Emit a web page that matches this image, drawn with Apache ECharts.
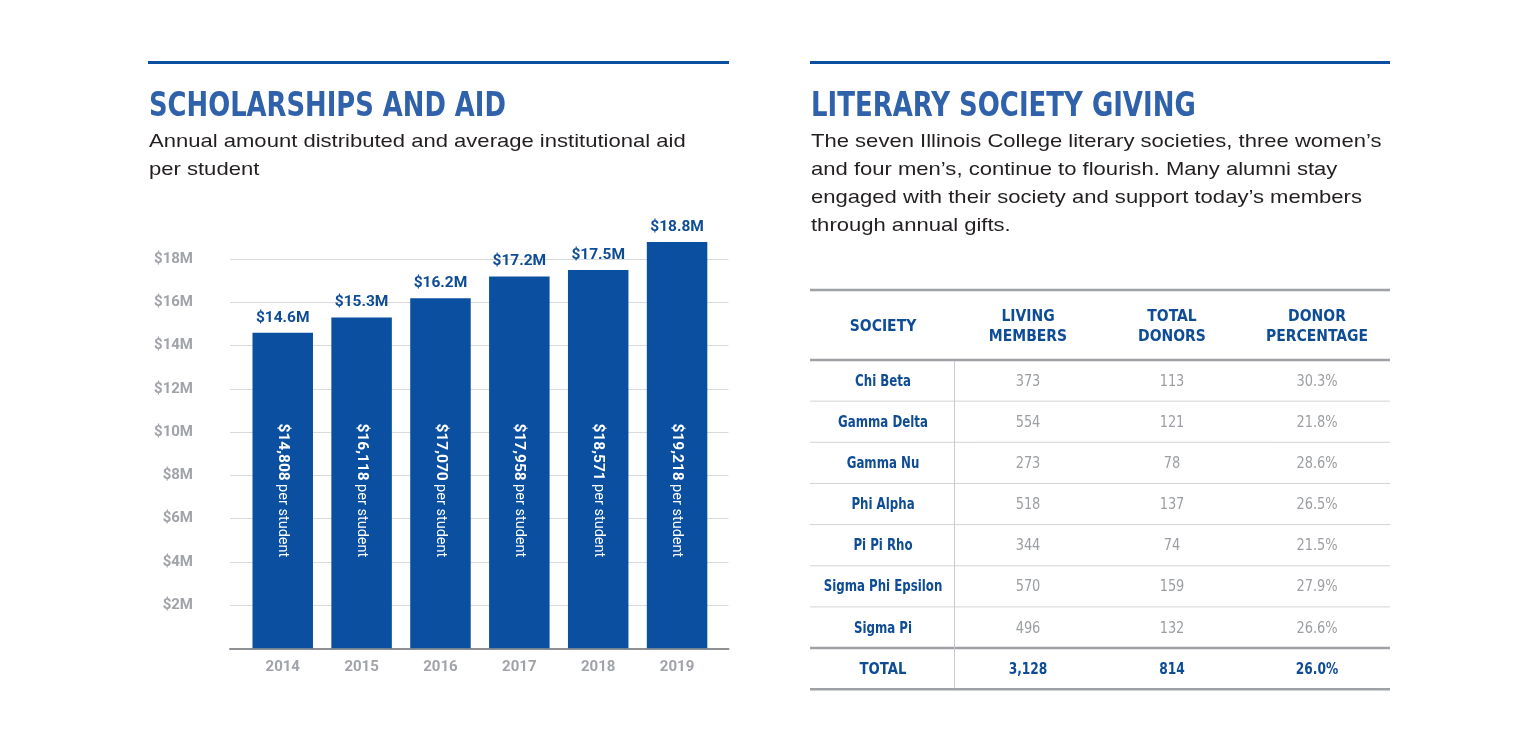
<!DOCTYPE html>
<html><head><meta charset="utf-8">
<script src="https://cdn.jsdelivr.net/npm/echarts@6/dist/echarts.min.js"></script>
<style>html,body{margin:0;padding:0;background:#fff}#c{width:1537px;height:737px}</style>
</head><body><div id="c"></div>
<script>
// ---- data ----
const years = ['2014', '2015', '2016', '2017', '2018', '2019'];
const totalAidM = [14.6, 15.3, 16.2, 17.2, 17.5, 18.8];
const perStudent = [14808, 16118, 17070, 17958, 18571, 19218];

const tableHeaders = ['SOCIETY', 'LIVING\nMEMBERS', 'TOTAL\nDONORS', 'DONOR\nPERCENTAGE'];
const societies = ['Chi Beta', 'Gamma Delta', 'Gamma Nu', 'Phi Alpha', 'Pi Pi Rho', 'Sigma Phi Epsilon', 'Sigma Pi'];
const livingMembers = [373, 554, 273, 518, 344, 570, 496];
const totalDonors = [113, 121, 78, 137, 74, 159, 132];
const donorPct = [30.3, 21.8, 28.6, 26.5, 21.5, 27.9, 26.6];
const totalRow = ['TOTAL', 3128, 814, 26.0];

const leftTitle = 'SCHOLARSHIPS AND AID';
const leftSub = 'Annual amount distributed and average institutional aid\nper student';
const rightTitle = 'LITERARY SOCIETY GIVING';
const rightSub = 'The seven Illinois College literary societies, three women\u2019s\nand four men\u2019s, continue to flourish. Many alumni stay\nengaged with their society and support today\u2019s members\nthrough annual gifts.';

// ---- style ----
const COND = '"Liberation Sans Narrow","DejaVu Sans Condensed","Roboto Condensed","Arial Narrow",sans-serif';
const LBL = 'Roboto,"DejaVu Sans Condensed",sans-serif';
const SANS = '"Liberation Sans",Arial,Helvetica,sans-serif';
const BAR = '#0a4fa0';
const DARKBLUE = '#0e4c96';
const TITLEBLUE = '#2f62ab';
const GRAY = '#a0a3a8';
const NUMGRAY = '#9b9ea2';

const fmtInt = v => v.toLocaleString('en-US');

// ---- table graphics ----
const g = [];
const tX0 = 810, tX1 = 1390;
const colCenters = [883, 1028, 1172, 1317];
const headTop = 290, headBot = 360, rowH = 41.15;
const nRows = societies.length + 1;

function hline(y, w, color) {
  g.push({type: 'line', shape: {x1: tX0, y1: y, x2: tX1, y2: y}, style: {stroke: color, lineWidth: w}, silent: true});
}
function txt(x, y, text, font, fill, align, sx, lineHeight, vAlign) {
  g.push({type: 'text', x: x, y: y, scaleX: sx || 1, silent: true,
    style: {text: text, font: font, fill: fill, align: align || 'center', verticalAlign: vAlign || 'middle', lineHeight: lineHeight}});
}

// rules above sections
g.push({type: 'rect', shape: {x: 148, y: 61, width: 581, height: 3}, style: {fill: BAR}, silent: true});
g.push({type: 'rect', shape: {x: 810, y: 61, width: 580, height: 3}, style: {fill: BAR}, silent: true});
// titles & subtitles
txt(149, 107.5, leftTitle, 'bold 33px ' + COND, TITLEBLUE, 'left', 0.87);
txt(149, 128, leftSub, '19px ' + SANS, '#231f20', 'left', 1.16, 28, 'top');
txt(811, 107.5, rightTitle, 'bold 33px ' + COND, TITLEBLUE, 'left', 0.875);
txt(811, 128, rightSub, '19px ' + SANS, '#231f20', 'left', 1.16, 28, 'top');

// table lines
hline(headTop, 2.5, '#9ea1a5');
hline(headBot, 2.5, '#9ea1a5');
for (let r = 1; r < nRows - 1; r++) hline(headBot + rowH * r, 1, '#d3d4d6');
hline(headBot + rowH * (nRows - 1), 2.5, '#9ea1a5');
hline(headBot + rowH * nRows, 2.5, '#9ea1a5');
g.push({type: 'line', shape: {x1: 954.5, y1: headBot + 1, x2: 954.5, y2: headBot + rowH * nRows - 1}, style: {stroke: '#c9cacc', lineWidth: 1}, silent: true});

// header text
tableHeaders.forEach((h, i) => txt(colCenters[i], (headTop + headBot) / 2 + 1.5, h, 'bold 16px ' + COND, DARKBLUE, 'center', 0.97, 20));
// body rows
societies.forEach((s, r) => {
  const y = headBot + rowH * (r + 0.5) + 1;
  txt(colCenters[0], y, s, 'bold 16px ' + COND, DARKBLUE, 'center', 0.82);
  txt(colCenters[1], y, fmtInt(livingMembers[r]), '16px ' + COND, NUMGRAY, 'center', 0.9);
  txt(colCenters[2], y, fmtInt(totalDonors[r]), '16px ' + COND, NUMGRAY, 'center', 0.9);
  txt(colCenters[3], y, donorPct[r].toFixed(1) + '%', '16px ' + COND, NUMGRAY, 'center', 0.9);
});
{
  const y = headBot + rowH * (nRows - 0.5) + 1;
  txt(colCenters[0], y, totalRow[0], 'bold 16px ' + COND, DARKBLUE, 'center', 0.92);
  txt(colCenters[1], y, fmtInt(totalRow[1]), 'bold 16px ' + COND, DARKBLUE, 'center', 0.85);
  txt(colCenters[2], y, fmtInt(totalRow[2]), 'bold 16px ' + COND, DARKBLUE, 'center', 0.85);
  txt(colCenters[3], y, totalRow[3].toFixed(1) + '%', 'bold 16px ' + COND, DARKBLUE, 'center', 0.85);
}

// ---- chart ----
const zeroY = 648.25, pxPerM = 21.61;
const chart = echarts.init(document.getElementById('c'), null, {renderer: 'canvas'});
chart.setOption({
  animation: false,
  backgroundColor: '#ffffff',
  grid: [
    {left: 230, top: zeroY - 18 * pxPerM, width: 498.5, height: 18 * pxPerM},
    {left: 243.3, top: zeroY - 20 * pxPerM, width: 473.2, height: 20 * pxPerM}
  ],
  xAxis: [
    {gridIndex: 0, type: 'value', min: 0, max: 1, axisLine: {show: true, onZero: false, lineStyle: {color: '#8e9094', width: 2}},
     axisTick: {show: false}, axisLabel: {show: false}, splitLine: {show: false}},
    {gridIndex: 1, type: 'category', data: years, axisLine: {show: false}, axisTick: {show: false},
     axisLabel: {color: GRAY, fontFamily: LBL, fontWeight: 'bold', fontSize: 15, margin: 11}}
  ],
  yAxis: [
    {gridIndex: 0, type: 'value', min: 0, max: 18, interval: 2, axisLine: {show: false}, axisTick: {show: false},
     splitLine: {lineStyle: {color: '#d9dadc', width: 1}},
     axisLabel: {margin: 37, color: GRAY, fontFamily: LBL, fontWeight: 'bold', fontSize: 15,
       formatter: v => v === 0 ? '' : '$' + v + 'M'}},
    {gridIndex: 1, type: 'value', min: 0, max: 20, show: false}
  ],
  series: [
    {type: 'bar', xAxisIndex: 1, yAxisIndex: 1, data: totalAidM, barWidth: 60.5, itemStyle: {color: BAR},
     label: {show: true, position: 'top', distance: 7, color: DARKBLUE, fontFamily: LBL, fontWeight: 'bold', fontSize: 15.5,
       formatter: p => '$' + p.value.toFixed(1) + 'M'}},
    {type: 'bar', xAxisIndex: 1, yAxisIndex: 1, data: totalAidM, barWidth: 60.5, barGap: '-100%', silent: true,
     itemStyle: {color: 'rgba(0,0,0,0)'},
     label: {show: true, position: 'insideBottom', distance: 91, rotate: -90, align: 'right', verticalAlign: 'middle',
       formatter: p => '{b|$' + fmtInt(perStudent[p.dataIndex]) + '} {n|per student}',
       rich: {b: {color: '#fff', fontFamily: LBL, fontWeight: 'bold', fontSize: 15.5},
              n: {color: '#fff', fontFamily: LBL, fontWeight: 'normal', fontSize: 14.5}}}}
  ],
  graphic: {elements: g}
});
</script></body></html>
